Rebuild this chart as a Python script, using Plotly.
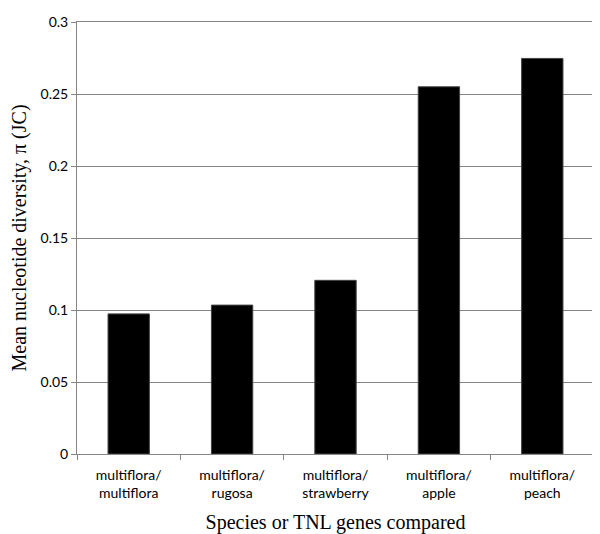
import plotly.graph_objects as go

categories = ["multiflora/<br>multiflora", "multiflora/<br>rugosa", "multiflora/<br>strawberry",
              "multiflora/<br>apple", "multiflora/<br>peach"]
values = [0.0973, 0.1034, 0.1206, 0.255, 0.2747]
ytick_vals = [0, 0.05, 0.1, 0.15, 0.2, 0.25, 0.3]
ytick_text = ["0", "0.05", "0.1", "0.15", "0.2", "0.25", "0.3"]

fig = go.Figure(go.Bar(x=categories, y=values, marker=dict(color="black", line=dict(color="#444", width=1)), width=0.4))

axis_gray = "#868686"
fig.update_layout(
    width=592, height=526,
    margin=dict(l=65, r=6, t=5, b=79),
    plot_bgcolor="white", paper_bgcolor="white",
    showlegend=False,
    font=dict(family="Lato, Open Sans, sans-serif", size=14, color="black"),
)
fig.update_xaxes(
    type="category", tickson="boundaries", ticks="outside", ticklen=5, tickcolor=axis_gray,
    ticklabelstandoff=8,
    showline=True, linecolor=axis_gray, mirror=True, showgrid=False,
    tickfont=dict(family="Lato, Open Sans, sans-serif", size=14),
    title=dict(text="Species or TNL genes compared",
               font=dict(family="Liberation Serif, Times New Roman, serif", size=20), standoff=14),
)
fig.update_yaxes(
    range=[0, 0.3], tickvals=ytick_vals, ticktext=ytick_text,
    ticks="outside", ticklen=5, tickcolor=axis_gray, ticklabeloverflow="allow",
    showline=True, linecolor=axis_gray, mirror=True,
    showgrid=True, gridcolor="#868686", gridwidth=1, zeroline=False,
    tickfont=dict(family="Lato, Open Sans, sans-serif", size=14),
    title=dict(text="Mean nucleotide diversity, π (JC)",
               font=dict(family="Liberation Serif, Times New Roman, serif", size=20), standoff=14),
)
fig.write_html("out.html")
